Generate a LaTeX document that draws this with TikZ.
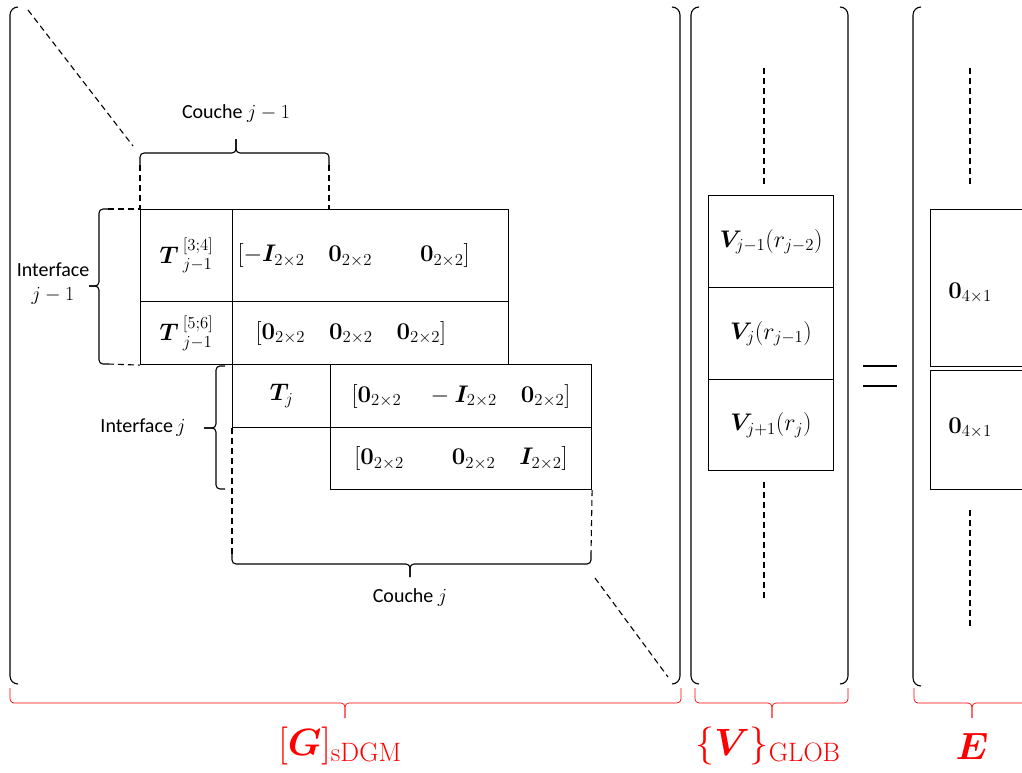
\RequirePackage{fix-cm}
\documentclass[tikz,border=0pt]{standalone}
\usepackage{amsmath}
\usepackage{bm}
\usepackage[no-math]{fontspec}
\setmainfont{Carlito}
\usetikzlibrary{positioning}

\begin{document}
\begin{tikzpicture}[x=1pt,y=-1pt,line width=1.1pt,
        cell/.style={draw,anchor=north west,inner sep=0pt,font=\fontsize{24}{28}\selectfont},
        dsh/.style={dash pattern=on 6pt off 4pt},
        bracket/.style={rounded corners=8pt},
        brc/.style={rounded corners=4pt},
        lbl/.style={font=\fontsize{20}{24}\selectfont},
        redlbl/.style={red,font=\fontsize{38}{44}\selectfont}]
        \useasboundingbox (0,0) rectangle (1022,773);

        % blocs de la matrice
        \node[cell,minimum width=92pt,minimum height=92pt] (t34) at (140,209) {$\bm{T}\,^{[3;4]}_{j-1}$};
        \node[cell,minimum width=276pt,minimum height=92pt,text width=266pt] (r1) at (232,209) {$[-\bm{I}_{2\times2}\quad \mathbf{0}_{2\times2}\qquad \mathbf{0}_{2\times2}]$};
        \node[cell,minimum width=92pt,minimum height=63pt] (t56) at (140,301) {$\bm{T}\,^{[5;6]}_{j-1}$};
        \node[cell,minimum width=276pt,minimum height=63pt,text width=254pt] (r2) at (232,301) {\hspace*{12pt}$[\mathbf{0}_{2\times2}\quad \mathbf{0}_{2\times2}\quad \mathbf{0}_{2\times2}]$};
        \node[cell,minimum width=98pt,minimum height=63pt] (tj) at (232,364) {$\bm{T}_j$};
        \node[cell,minimum width=261pt,minimum height=63pt] (r3) at (330,364) {$[\mathbf{0}_{2\times2}\quad -\bm{I}_{2\times2}\quad \mathbf{0}_{2\times2}]$};
        \node[cell,minimum width=261pt,minimum height=62pt] (r4) at (330,427) {$[\mathbf{0}_{2\times2}\qquad \mathbf{0}_{2\times2}\quad \bm{I}_{2\times2}]$};

        % vecteur V
        \node[cell,minimum width=125pt,minimum height=92pt] (v1) at (708,195) {$\bm{V}_{j-1}(r_{j-2})$};
        \node[cell,minimum width=125pt,minimum height=92pt] (v2) at (708,287) {$\bm{V}_j(r_{j-1})$};
        \node[cell,minimum width=125pt,minimum height=91pt] (v3) at (708,379) {$\bm{V}_{j+1}(r_j)$};

        % second membre E
        \node[cell,minimum width=110pt,minimum height=157pt] (e1) at (930,209) {};
        \node[cell,minimum width=110pt,minimum height=119pt] (e2) at (930,370) {};
        \node[font=\fontsize{24}{28}\selectfont] (e1t) at (970,293) {$\mathbf{0}_{4\times1}$};
        \node[font=\fontsize{24}{28}\selectfont] (e2t) at (970,428) {$\mathbf{0}_{4\times1}$};

        % pointilles verticaux
        \coordinate (va) at (764,68);  \coordinate (vb) at (764,185);
        \coordinate (vc) at (764,482); \coordinate (vd) at (764,600);
        \coordinate (ea) at (970,68);  \coordinate (eb) at (970,185);
        \coordinate (ec) at (970,510); \coordinate (ed) at (970,628);
        \draw[dsh] (va) -- (vb);
        \draw[dsh] (vc) -- (vd);
        \draw[dsh] (ea) -- (eb);
        \draw[dsh] (ec) -- (ed);

        % signe egal
        \draw (863,366) -- (897,366);
        \draw (863,386) -- (897,386);

        % grandes parentheses
        \draw[bracket] (18,7) -- (10,7) -- (10,684) -- (18,684);
        \draw[bracket] (672,7) -- (680,7) -- (680,684) -- (672,684);
        \draw[bracket] (699,7) -- (691,7) -- (691,684) -- (699,684);
        \draw[bracket] (840,7) -- (848,7) -- (848,684) -- (840,684);
        \draw[bracket] (921,7) -- (913,7) -- (913,686) -- (921,686);

        % accolades des couches et interfaces
        \coordinate (cj1l) at (140,165); \coordinate (cj1r) at (329,165);
        \coordinate (cj1m) at (236,153); \coordinate (cj1t) at (236,139);
        \coordinate (cjl) at (232,554);  \coordinate (cjr) at (591,554);
        \coordinate (cjm) at (410,564);  \coordinate (cjt) at (410,577);
        \coordinate (ij1t) at (108,209); \coordinate (ij1b) at (108,364);
        \coordinate (ij1m) at (99,286);  \coordinate (ij1p) at (89,286);
        \coordinate (ijt) at (225,366);  \coordinate (ijb) at (225,489);
        \coordinate (ijm) at (216,428);  \coordinate (ijp) at (204,428);
        \draw[brc] (cj1l) |- (cj1m) -- (cj1t);
        \draw[brc] (cj1r) |- (cj1m) -- (cj1t);
        \draw[brc] (cjl) |- (cjm) -- (cjt);
        \draw[brc] (cjr) |- (cjm) -- (cjt);
        \draw[brc] (ij1t) -| (ij1m) -- (ij1p);
        \draw[brc] (ij1b) -| (ij1m) -- (ij1p);
        \draw[brc] (ijt) -| (ijm) -- (ijp);
        \draw[brc] (ijb) -| (ijm) -- (ijp);
        \node[lbl] (cj1) at (236,114) {Couche $j-1$};
        \node[lbl] (cj) at (410,597) {Couche $j$};
        \node[lbl,align=center] (ij1) at (53,284) {Interface\\$j-1$};
        \node[lbl] (ij) at (143,428) {Interface\,$j$};

        % prolongements en pointilles
        \draw[dsh] (cj1l) -- (t34.north west);
        \draw[dsh] (cj1r) -- (cj1r |- r1.north);
        \draw[dsh] (ij1t) -- (t34.north west);
        \draw[dsh] (ij1b) -- (t56.south west);
        \draw[dsh] (tj.south west) -- (cjl);
        \draw[dsh] (r4.south east) -- (cjr);
        \coordinate (da) at (28,10);   \coordinate (db) at (133,146);
        \coordinate (dc) at (595,578); \coordinate (dd) at (668,677);
        \draw[dsh] (da) -- (db);
        \draw[dsh] (dc) -- (dd);

        % accolades rouges
        \coordinate (gl1) at (10,688);  \coordinate (gr1) at (681,688);
        \coordinate (gm) at (345,703);  \coordinate (gt) at (345,718);
        \coordinate (vl1) at (695,688); \coordinate (vr1) at (848,688);
        \coordinate (vm) at (772,703);  \coordinate (vt) at (772,718);
        \coordinate (el1) at (914,688); \coordinate (er1) at (1031,688);
        \coordinate (em) at (972,703);  \coordinate (et) at (972,718);
        \begin{scope}[red,line width=0.7pt,brc]
            \draw (gl1) |- (gm) -- (gt);
            \draw (gr1) |- (gm) -- (gt);
            \draw (vl1) |- (vm) -- (vt);
            \draw (vr1) |- (vm) -- (vt);
            \draw (el1) |- (em) -- (et);
            \draw (er1) |- (em) -- (et);
        \end{scope}
        \node[redlbl] (gl) at (340,746) {$[\bm{G}]_{\mathrm{sDGM}}$};
        \node[redlbl] (vl) at (768,746) {$\{\bm{V}\}_{\mathrm{GLOB}}$};
        \node[redlbl] (el) at (972,746) {$\bm{E}$};
    \end{tikzpicture}
\end{document}
